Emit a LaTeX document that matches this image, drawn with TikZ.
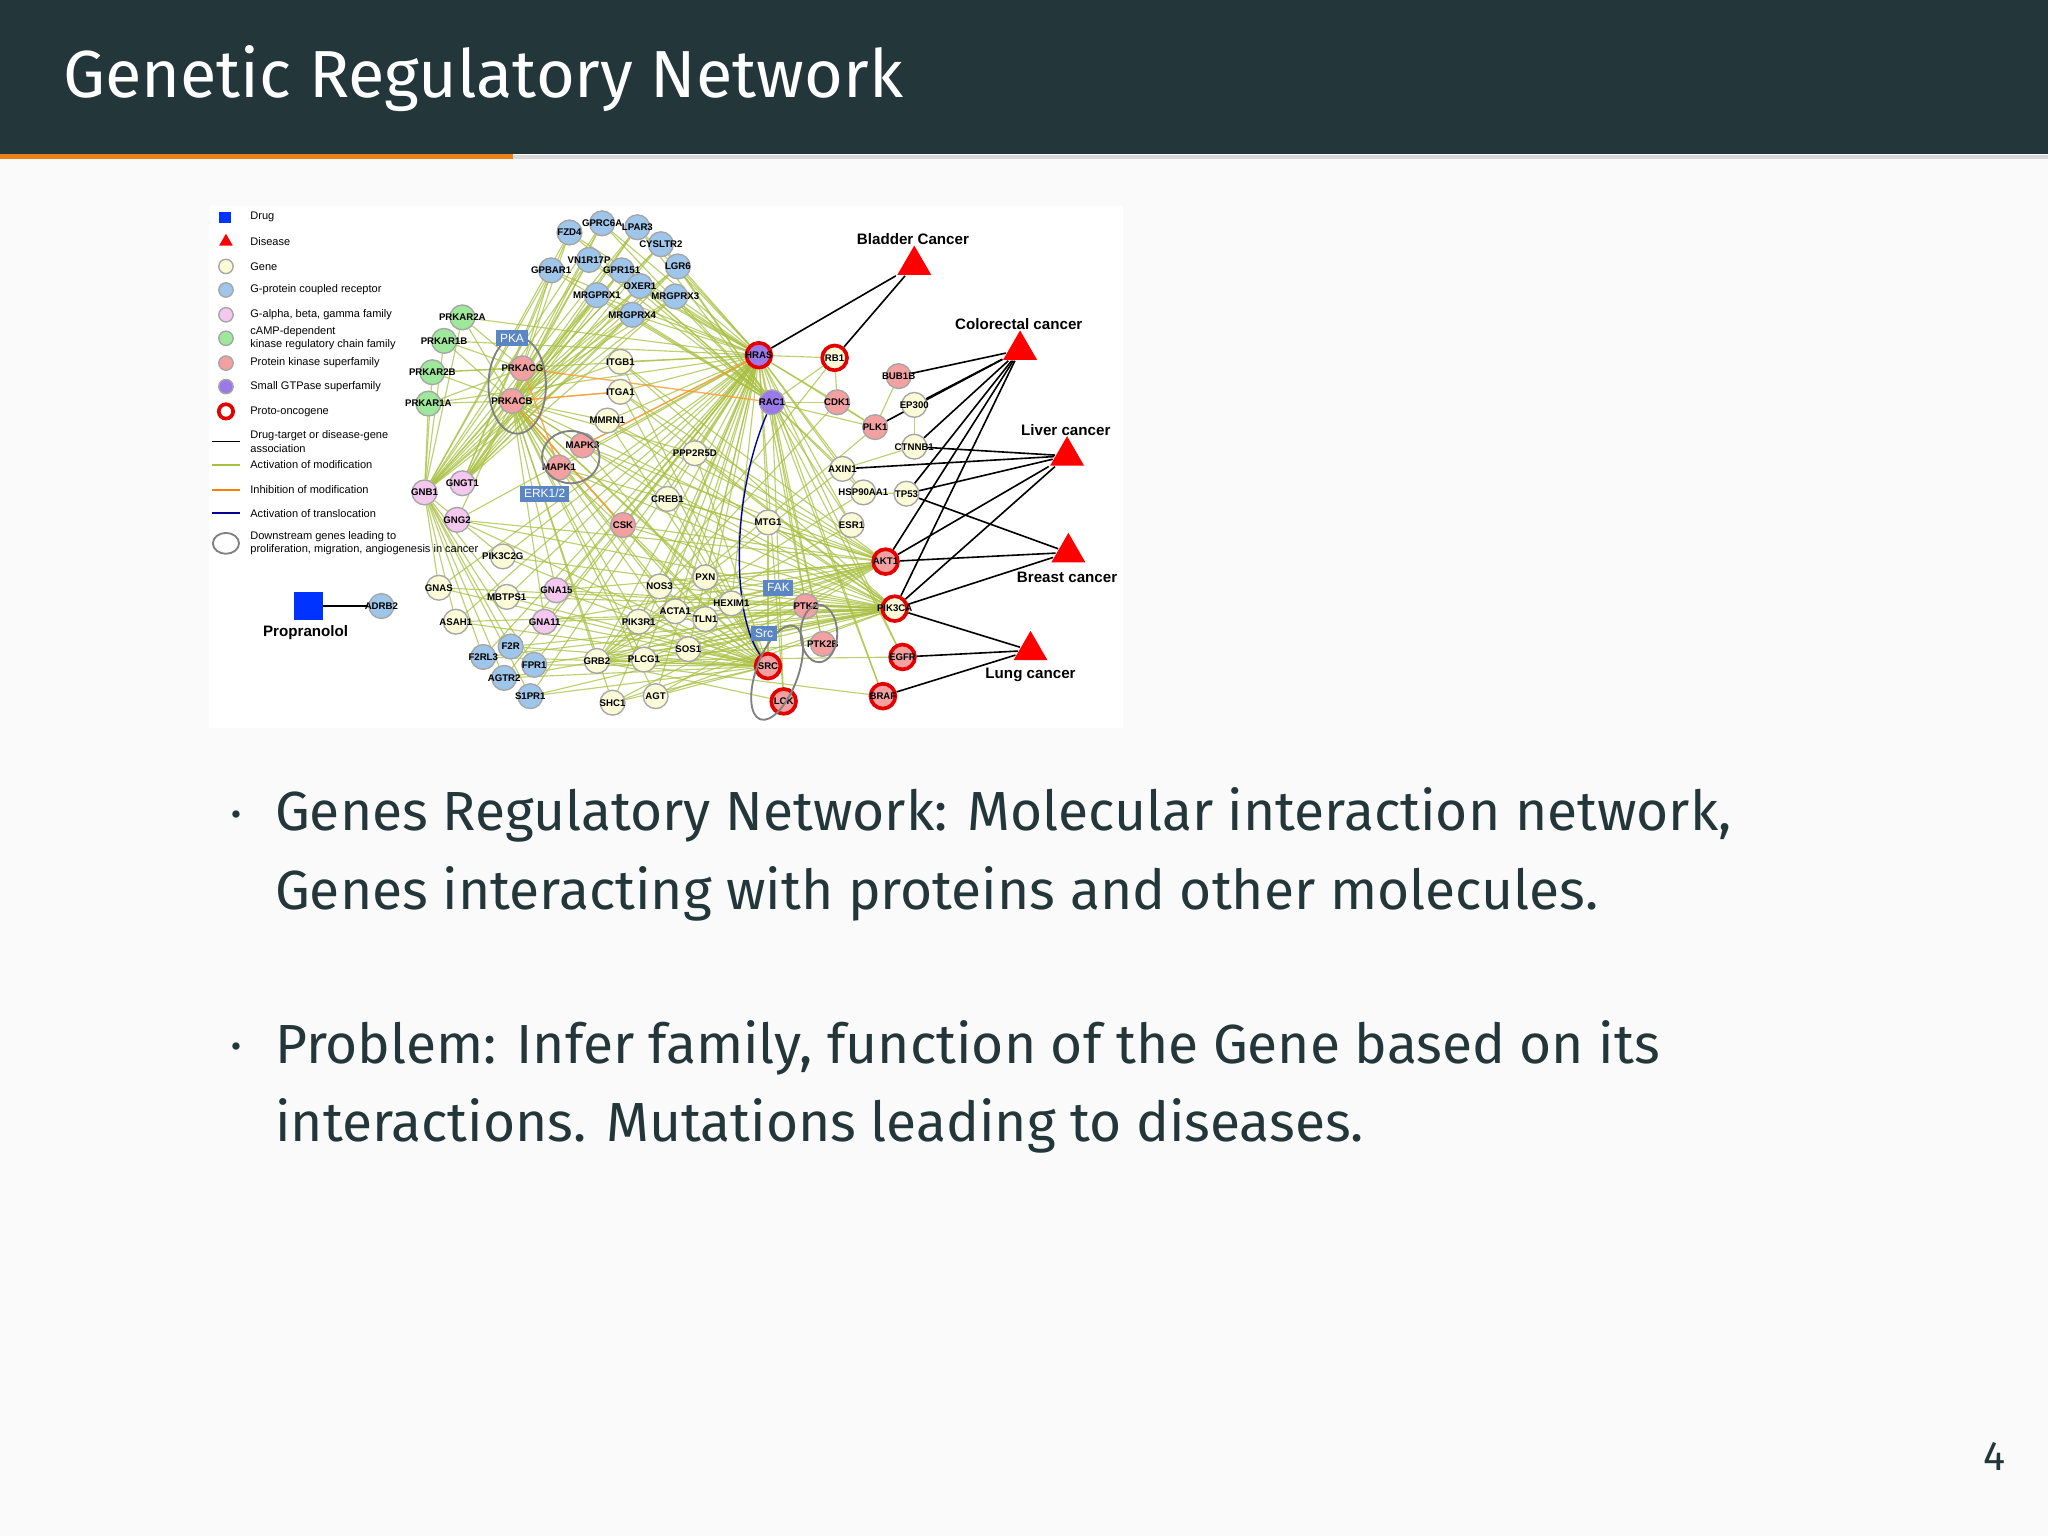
\documentclass[tikz,border=0pt]{standalone}
\usepackage{fontspec}
\setmainfont{Fira Sans}
\newfontfamily\netfont{Liberation Sans}
\usetikzlibrary{shapes.geometric}
\pgfdeclarelayer{bg}
\pgfdeclarelayer{edges}
\pgfsetlayers{bg,edges,main}
\definecolor{dk}{HTML}{23373B}
\definecolor{orng}{HTML}{EB811B}
\definecolor{pg}{HTML}{FAFAFA}
\definecolor{cgp}{HTML}{9EC5EA}
\definecolor{cca}{HTML}{9DE89A}
\definecolor{cpk}{HTML}{F2A0A0}
\definecolor{cgt}{HTML}{9A7AE8}
\definecolor{cga}{HTML}{F4C7EF}
\definecolor{cge}{HTML}{FBFBD8}
\definecolor{edg}{HTML}{A8C040}
\definecolor{lab}{HTML}{5B86C4}
\tikzset{
 gn/.style={circle,draw=gray!70,line width=0.3pt,minimum size=0.19cm,inner sep=0pt},
 lc/.style={circle,draw=gray!70,line width=0.3pt,minimum size=0.11cm,inner sep=0pt},
 po/.style={draw=red!90!black,line width=0.8pt},
 nl/.style={font=\netfont\fontsize{2.1}{2.4}\selectfont\bfseries,inner sep=0pt},
 ge/.style={edg,line width=0.25pt,opacity=0.75},
 go/.style={orange!80,line width=0.3pt,opacity=0.8},
 bk/.style={black,line width=0.35pt},
 tri/.style={regular polygon,regular polygon sides=3,fill=red,inner sep=0pt,minimum size=0.3cm},
 dl/.style={font=\netfont\fontsize{3.3}{4}\selectfont\bfseries},
 lg/.style={font=\netfont\fontsize{2.4}{2.9}\selectfont,anchor=west,inner sep=0pt,align=left},
 bl/.style={fill=lab,text=white,font=\netfont\fontsize{2.6}{3}\selectfont,inner sep=0.8pt},
}
\newcommand\gnd[4][]{\node[gn,fill=#4,#1] (#2) at (#3) {}; \node[nl] at (#2) {#2};}
\begin{document}
\begin{tikzpicture}[x=0.01cm,y=-0.01cm]
\begin{pgfonlayer}{bg}
\fill[pg] (0,0) rectangle (1568,1176);
\fill[white] (160,158) rectangle (860,557);
\end{pgfonlayer}
\useasboundingbox (0,0) rectangle (1568,1176);
\fill[dk] (0,0) rectangle (1568,118);
\fill[gray!30] (393,119) rectangle (1568,122);
\fill[orng] (0,118) rectangle (393,122);
\node[anchor=west,text=white,font=\fontsize{14.5}{17}\selectfont] (title) at (36,60) {Genetic Regulatory Network};
% legend
\fill[blue!80!cyan] (168,162) rectangle (177,171);
\node[lg] (l1) at (191,166) {Drug};
\node[tri,minimum size=0.12cm] (lt) at (173,185) {};
\node[lg] (l2) at (191,185) {Disease};
\node[lc,fill=cge] (c3) at (173,204) {}; \node[lg] at (191,204) {Gene};
\node[lc,fill=cgp] (c4) at (173,222) {}; \node[lg] at (191,222) {G-protein coupled receptor};
\node[lc,fill=cga] (c5) at (173,241) {}; \node[lg] at (191,241) {G-alpha, beta, gamma family};
\node[lc,fill=cca] (c6) at (173,259) {}; \node[lg] at (191,259) {cAMP-dependent\\kinase regulatory chain family};
\node[lc,fill=cpk] (c7) at (173,278) {}; \node[lg] at (191,278) {Protein kinase superfamily};
\node[lc,fill=cgt] (c8) at (173,296) {}; \node[lg] at (191,296) {Small GTPase superfamily};
\node[lc,fill=white,po] (c9) at (173,315) {}; \node[lg] at (191,315) {Proto-oncogene};
\draw[bk] (162,338) -- (184,338); \node[lg] at (191,338) {Drug-target or disease-gene\\association};
\draw[edg,line width=0.5pt] (162,356) -- (184,356); \node[lg] at (191,356) {Activation of modification};
\draw[orange,line width=0.5pt] (162,375) -- (184,375); \node[lg] at (191,375) {Inhibition of modification};
\draw[blue!60!black,line width=0.5pt] (162,393) -- (184,393); \node[lg] at (191,393) {Activation of translocation};
\draw[gray] (173,416) ellipse [x radius=10,y radius=8]; \node[lg] at (191,416) {Downstream genes leading to\\proliferation, migration, angiogenesis in cancer};
% nodes
\gnd{FZD4}{436,178}{cgp}\gnd{GPRC6A}{461,171}{cgp}\gnd{LPAR3}{488,174}{cgp}\gnd{CYSLTR2}{506,187}{cgp}
\gnd{VN1R17P}{451,199}{cgp}\gnd{GPBAR1}{422,207}{cgp}\gnd{GPR151}{476,207}{cgp}\gnd{LGR6}{519,204}{cgp}
\gnd{OXER1}{490,219}{cgp}\gnd{MRGPRX1}{457,226}{cgp}\gnd{MRGPRX3}{517,227}{cgp}\gnd{MRGPRX4}{484,241}{cgp}
\gnd{ADRB2}{292,464}{cgp}\gnd{F2R}{391,495}{cgp}\gnd{F2RL3}{370,503}{cgp}\gnd{FPR1}{409,509}{cgp}
\gnd{AGTR2}{386,519}{cgp}\gnd{S1PR1}{406,533}{cgp}
\gnd{PRKAR2A}{354,243}{cca}\gnd{PRKAR1B}{340,261}{cca}\gnd{PRKAR2B}{331,285}{cca}\gnd{PRKAR1A}{328,309}{cca}
\gnd{PRKACG}{400,282}{cpk}\gnd{PRKACB}{392,307}{cpk}\gnd{MAPK3}{446,341}{cpk}\gnd{MAPK1}{428,358}{cpk}
\gnd{CSK}{477,402}{cpk}\gnd{CDK1}{641,308}{cpk}\gnd{PLK1}{670,327}{cpk}\gnd{BUB1B}{688,288}{cpk}
\gnd{PTK2}{617,464}{cpk}\gnd{PTK2B}{630,493}{cpk}\gnd[po]{SRC}{588,510}{cpk}\gnd[po]{LCK}{600,537}{cpk}
\gnd[po]{AKT1}{678,430}{cpk}\gnd[po]{EGFR}{691,503}{cpk}\gnd[po]{BRAF}{676,533}{cpk}
\gnd[po]{HRAS}{581,272}{cgt}\gnd{RAC1}{591,308}{cgt}
\gnd{GNGT1}{354,370}{cga}\gnd{GNB1}{325,377}{cga}\gnd{GNG2}{350,398}{cga}\gnd{GNA15}{426,452}{cga}\gnd{GNA11}{417,476}{cga}
\gnd{ITGB1}{475,277}{cge}\gnd{ITGA1}{475,300}{cge}\gnd{MMRN1}{465,322}{cge}\gnd{PPP2R5D}{532,347}{cge}
\gnd{CREB1}{511,382}{cge}\gnd{MTG1}{588,400}{cge}\gnd{ESR1}{652,402}{cge}\gnd{AXIN1}{645,359}{cge}
\gnd{HSP90AA1}{661,377}{cge}\gnd{TP53}{694,378}{cge}\gnd{EP300}{700,310}{cge}\gnd{CTNNB1}{700,342}{cge}
\gnd[po]{RB1}{639,274}{cge}\gnd{PIK3C2G}{385,426}{cge}\gnd{GNAS}{336,450}{cge}\gnd{ASAH1}{349,476}{cge}
\gnd{MBTPS1}{388,457}{cge}\gnd{NOS3}{505,449}{cge}\gnd{PXN}{540,442}{cge}\gnd{HEXIM1}{560,462}{cge}
\gnd{ACTA1}{517,468}{cge}\gnd{TLN1}{540,474}{cge}\gnd{PIK3R1}{489,476}{cge}\gnd{SOS1}{527,497}{cge}
\gnd{PLCG1}{493,505}{cge}\gnd{GRB2}{457,506}{cge}\gnd{SHC1}{469,538}{cge}\gnd{AGT}{502,533}{cge}
\gnd[po]{PIK3CA}{685,466}{cge}
% edges
\begin{pgfonlayer}{edges}
\foreach \a in {FZD4,GPRC6A,LPAR3,CYSLTR2,VN1R17P,GPBAR1,GPR151,LGR6,OXER1,MRGPRX1,MRGPRX3,MRGPRX4}{
 \draw[ge] (\a) -- (HRAS); \draw[ge] (\a) -- (GNB1); \draw[ge] (\a) -- (PRKACB); \draw[ge] (\a) -- (RAC1); \draw[ge] (\a) -- (GNGT1);}
\foreach \a in {PRKAR2A,PRKAR1B,PRKAR2B,PRKAR1A}{\draw[ge] (\a) -- (PRKACG); \draw[ge] (\a) -- (PRKACB); \draw[ge] (\a) -- (GNB1); \draw[ge] (\a) -- (HRAS);}
\foreach \a in {F2R,F2RL3,FPR1,AGTR2,S1PR1,GNAS,ASAH1,MBTPS1,PIK3C2G}{\draw[ge] (\a) -- (GNB1); \draw[ge] (\a) -- (PIK3CA); \draw[ge] (\a) -- (HRAS); \draw[ge] (\a) -- (SRC);}
\foreach \a in {ITGB1,ITGA1,MMRN1,PPP2R5D,CREB1,MTG1,NOS3,PXN,HEXIM1,ACTA1,TLN1,PIK3R1,SOS1,PLCG1,GRB2,SHC1,AGT,CSK,MAPK1,MAPK3,GNA15,GNA11,GNG2}{
 \draw[ge] (\a) -- (PIK3CA); \draw[ge] (\a) -- (AKT1); \draw[ge] (\a) -- (SRC); \draw[ge] (\a) -- (HRAS); \draw[ge] (\a) -- (PRKACB);}
\foreach \a in {CDK1,PLK1,RB1,ESR1,AXIN1,HSP90AA1,PTK2,PTK2B,LCK,EGFR,BRAF}{\draw[ge] (\a) -- (RAC1); \draw[ge] (\a) -- (HRAS); \draw[ge] (\a) -- (GRB2);}
\foreach \a/\b in {PRKACG/MAPK1,PRKACB/CSK,PRKACG/RAC1,MAPK3/HRAS,PRKACB/ITGA1}{\draw[go] (\a) -- (\b);}
\draw[ge] (CDK1) -- (RB1); \draw[ge] (PLK1) -- (CDK1); \draw[ge] (BUB1B) -- (PLK1);
\draw[ge] (AXIN1) -- (CTNNB1); \draw[ge] (TP53) -- (HSP90AA1); \draw[ge] (EP300) -- (CTNNB1);
\draw[blue!60!black,line width=0.3pt] (RAC1) .. controls (560,380) and (560,470) .. (SRC);
\end{pgfonlayer}
\draw[gray,line width=0.4pt] (396,295) ellipse [x radius=22,y radius=37];
\draw[gray,line width=0.4pt] (437,350) ellipse [x radius=22,y radius=20];
\draw[gray,line width=0.4pt,rotate around={-20:(595,515)}] (595,515) ellipse [x radius=16,y radius=38];
\draw[gray,line width=0.4pt] (627,485) ellipse [x radius=14,y radius=22];
% labels
\node[bl] (pka) at (392,259) {PKA};
\node[bl] (erk) at (417,378) {ERK1/2};
\node[bl] (fak) at (596,450) {FAK};
\node[bl] (srcl) at (585,485) {Src};
% diseases
\node[tri] (bla) at (700,203) {}; \node[dl] at (699,183) {Bladder Cancer};
\node[tri] (col) at (781,268) {}; \node[dl] at (780,248) {Colorectal cancer};
\node[tri] (liv) at (817,349) {}; \node[dl] at (816,329) {Liver cancer};
\node[tri] (bre) at (818,423) {}; \node[dl] at (817,442) {Breast cancer};
\node[tri] (lun) at (789,498) {}; \node[dl] at (789,517) {Lung cancer};
\fill[blue!80!cyan] (225,453) rectangle (247,475); \coordinate (prop) at (247,464);
\node[dl] at (234,484) {Propranolol};
\begin{pgfonlayer}{edges}
\draw[bk] (prop) -- (ADRB2);
\foreach \a in {HRAS,RB1}{\draw[bk] (bla) -- (\a);}
\foreach \a in {BUB1B,EP300,CTNNB1,AKT1,PIK3CA,PLK1,TP53}{\draw[bk] (col) -- (\a);}
\foreach \a in {CTNNB1,TP53,AXIN1,AKT1,PIK3CA}{\draw[bk] (liv) -- (\a);}
\foreach \a in {TP53,AKT1,PIK3CA}{\draw[bk] (bre) -- (\a);}
\foreach \a in {EGFR,BRAF,PIK3CA}{\draw[bk] (lun) -- (\a);}
\end{pgfonlayer}
% bullets
\begin{scope}[every node/.style={anchor=base west,text=dk,font=\fontsize{12}{15}\selectfont,inner sep=0pt}]
\node[font=\fontsize{7}{8}\selectfont] (b1) at (176,632) {•};
\node (t1) at (210,636) {Genes Regulatory Network: Molecular interaction network,};
\node (t2) at (210,696) {Genes interacting with proteins and other molecules.};
\node[font=\fontsize{7}{8}\selectfont] (b2) at (176,810) {•};
\node (t3) at (210,814) {Problem: Infer family, function of the Gene based on its};
\node (t4) at (210,874) {interactions. Mutations leading to diseases.};
\node[font=\fontsize{9}{10}\selectfont] (pn) at (1518,1126) {4};
\end{scope}
\end{tikzpicture}
\end{document}
